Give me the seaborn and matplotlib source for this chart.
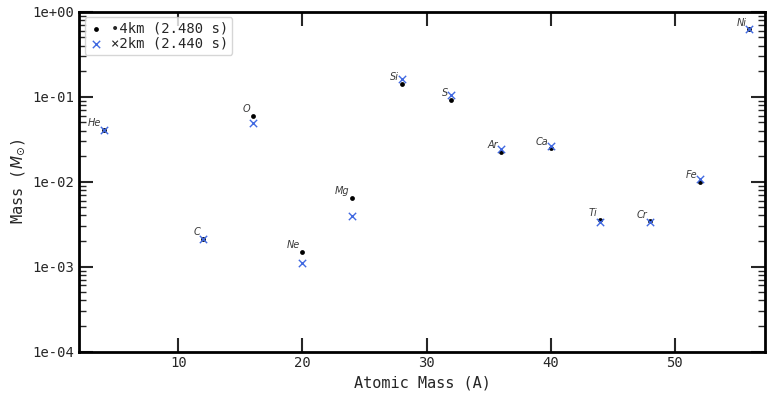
import numpy as np
import pandas as pd
import matplotlib
matplotlib.use("Agg")
import matplotlib.pyplot as plt
import seaborn as sns
from matplotlib.ticker import FormatStrFormatter, LogLocator

elements = ["He", "C", "O", "Ne", "Mg", "Si", "S", "Ar", "Ca", "Ti", "Cr", "Fe", "Ni"]
atomic_mass = [4, 12, 16, 20, 24, 28, 32, 36, 40, 44, 48, 52, 56]
mass_4km = [0.041, 0.00214, 0.0597, 0.00150, 0.00645, 0.142, 0.092, 0.0225, 0.0250, 0.00357, 0.00340, 0.0100, 0.62]
mass_2km = [0.041, 0.00212, 0.0490, 0.00110, 0.00395, 0.160, 0.104, 0.0245, 0.0262, 0.00335, 0.00335, 0.0108, 0.63]
label_4km = "\u20224km (2.480 s)"
label_2km = "\u00d72km (2.440 s)"

df4 = pd.DataFrame({"A": atomic_mass, "M": mass_4km})
df2 = pd.DataFrame({"A": atomic_mass, "M": mass_2km})

sns.set_style("white")
plt.rcParams["font.family"] = ["DejaVu Sans Mono"]

fig, ax = plt.subplots(figsize=(7.67, 3.95), dpi=100)
sns.scatterplot(data=df4, x="A", y="M", ax=ax, marker="o", color="black", s=12,
                edgecolor="black", linewidth=0, label=label_4km, zorder=3)
sns.scatterplot(data=df2, x="A", y="M", ax=ax, marker="x", color="royalblue", s=28,
                linewidth=1.0, label=label_2km, zorder=4)

for el, a, m in zip(elements, atomic_mass, mass_4km):
    ax.annotate(el, (a, m), xytext=(-2, 1), textcoords="offset points",
                ha="right", va="bottom", fontsize=7, style="italic",
                color="#3a3a3a", family="DejaVu Sans")

ax.set_yscale("log")
ax.set_ylim(1e-4, 1)
ax.set_xlim(2, 57.3)
ax.yaxis.set_major_formatter(FormatStrFormatter("%.0e"))
ax.yaxis.set_major_locator(LogLocator(base=10, numticks=10))
ax.yaxis.set_minor_locator(LogLocator(base=10, subs=np.arange(2, 10), numticks=20))
ax.set_xticks([10, 20, 30, 40, 50])

ax.set_xlabel("Atomic Mass (A)", fontsize=11)
ax.set_ylabel(r"Mass ($M_{\odot}$)", fontsize=11)

for sp in ax.spines.values():
    sp.set_linewidth(2)
    sp.set_color("black")
ax.tick_params(which="major", direction="in", length=10, width=1.5,
               top=True, right=True, labelsize=10, bottom=True, left=True)
ax.tick_params(which="minor", direction="in", length=5, width=1,
               top=True, right=True, bottom=True, left=True)

leg = ax.legend(loc="upper left", fontsize=10, handletextpad=0.6,
                borderpad=0.3, labelspacing=0.1, handlelength=1.0, frameon=True,
                borderaxespad=0.4)

fig.subplots_adjust(left=0.103, right=0.998, top=0.97, bottom=0.11)
fig.savefig("out.png", dpi=100)
